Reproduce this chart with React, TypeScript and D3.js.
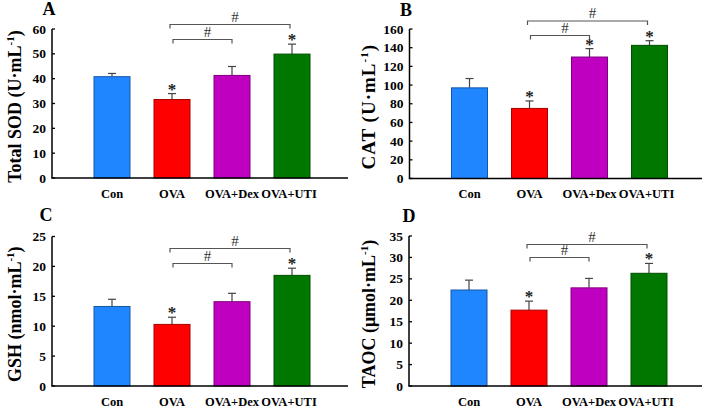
import React from "react";
import * as d3 from "d3";

const categories = ["Con", "OVA", "OVA+Dex", "OVA+UTI"];
const barColors = ["#1f86ff", "#ff0000", "#c000c0", "#007800"];

const sodMean = [40.8, 31.6, 41.3, 49.9];
const sodErr = [1.3, 2.4, 3.6, 4.0];
const sodStar = [false, true, false, true];
const sodTicks = [0, 10, 20, 30, 40, 50, 60];

const catMean = [97, 75, 130, 142.5];
const catErr = [10, 8, 9, 5];
const catStar = [false, true, true, true];
const catTicks = [0, 20, 40, 60, 80, 100, 120, 140, 160];

const gshMean = [13.3, 10.3, 14.1, 18.5];
const gshErr = [1.2, 1.2, 1.4, 1.2];
const gshStar = [false, true, false, true];
const gshTicks = [0, 5, 10, 15, 20, 25];

const taocMean = [22.4, 17.7, 22.9, 26.3];
const taocErr = [2.3, 2.1, 2.2, 2.3];
const taocStar = [false, true, false, true];
const taocTicks = [0, 5, 10, 15, 20, 25, 30, 35];

const FONT = "'Liberation Serif', 'Times New Roman', serif";

type PanelProps = {
  letter: string;
  title: string;
  unit: string;
  mean: number[];
  err: number[];
  star: boolean[];
  ticks: number[];
  axisX: number;
  yBase: number;
  yTop: number;
  xEnd: number;
  letterX: number;
  letterY: number;
  titleX: number;
  titleSize: number;
  titleSpacing: number;
  bracketHi: number;
  bracketLo: number;
};

function Panel(p: PanelProps) {
  const yMax = p.ticks[p.ticks.length - 1];
  const y = d3.scaleLinear().domain([0, yMax]).range([p.yBase, p.yTop]);
  const x = d3
    .scaleBand<string>()
    .domain(categories)
    .range([p.axisX + 30, p.axisX + 270])
    .paddingInner(0.4)
    .paddingOuter(0.2);
  const bw = x.bandwidth();
  const cx = (c: string) => (x(c) as number) + bw / 2;
  const titleY = (p.yBase + p.yTop) / 2 + 3;
  const cOVA = cx("OVA");
  const cDex = cx("OVA+Dex");
  const cUTI = cx("OVA+UTI");
  const bracket = (x1: number, x2: number, yy: number, key: string) => (
    <g key={key}>
      <path
        d={`M${x1},${yy + 4}V${yy}H${x2}V${yy + 4}`}
        fill="none"
        stroke="#555"
        strokeWidth={1.2}
      />
      <text
        x={(x1 + x2) / 2 + 5}
        y={yy - 3}
        textAnchor="middle"
        fontSize={15}
        fill="#333"
        fontFamily={FONT}
      >
        #
      </text>
    </g>
  );
  return (
    <g fontFamily={FONT}>
      <text
        x={p.letterX}
        y={p.letterY}
        textAnchor="middle"
        fontSize={18}
        fontWeight="bold"
      >
        {p.letter}
      </text>
      <text
        transform={`translate(${p.titleX},${titleY}) rotate(-90)`}
        textAnchor="middle"
        fontSize={p.titleSize}
        fontWeight="bold"
        letterSpacing={p.titleSpacing}
      >
        {p.title} ({p.unit}
        <tspan dy={-7} fontSize={11}>
          -1
        </tspan>
        <tspan dy={7}>)</tspan>
      </text>
      {categories.map((c, i) => {
        const x0 = x(c) as number;
        const top = y(p.mean[i]);
        const et = y(p.mean[i] + p.err[i]);
        const col = d3.color(barColors[i])!.darker(1.2).formatHex();
        return (
          <g key={c}>
            <line x1={x0 + bw / 2} x2={x0 + bw / 2} y1={top} y2={et} stroke="#444" strokeWidth={1.2} />
            <line x1={x0 + bw / 2 - 4} x2={x0 + bw / 2 + 4} y1={et} y2={et} stroke="#444" strokeWidth={1.2} />
            <rect
              x={x0}
              y={top}
              width={bw}
              height={p.yBase - top}
              fill={barColors[i]}
              stroke={col}
              strokeWidth={1}
            />
            {p.star[i] && (
              <text
                x={x0 + bw / 2}
                y={et + 1}
                textAnchor="middle"
                fontSize={17}
                fontWeight="bold"
                fill="#222"
              >
                *
              </text>
            )}
            <text
              x={x0 + bw / 2 - (i === 3 ? 3 : 0)}
              y={p.yBase + 19.5}
              textAnchor="middle"
              fontSize={12.5}
              fontWeight="bold"
            >
              {c}
            </text>
          </g>
        );
      })}
      {bracket(cOVA - 2, cUTI - 2, p.bracketHi, "hi")}
      {bracket(cOVA + 1, cDex, p.bracketLo, "lo")}
      <line x1={p.axisX} x2={p.axisX} y1={p.yTop} y2={p.yBase} stroke="#000" strokeWidth={1.5} />
      <line x1={p.axisX - 0.75} x2={p.xEnd} y1={p.yBase} y2={p.yBase} stroke="#000" strokeWidth={1.5} />
      {p.ticks.map((t) => (
        <g key={t}>
          <line x1={p.axisX} x2={p.axisX + 3} y1={y(t)} y2={y(t)} stroke="#000" strokeWidth={1.3} />
          <text
            x={p.axisX - 6}
            y={y(t) + 4.5}
            textAnchor="end"
            fontSize={13.5}
            fontWeight="bold"
          >
            {t}
          </text>
        </g>
      ))}
    </g>
  );
}

export default function App() {
  return (
    <svg
      width={709}
      height={409}
      style={{ position: "absolute", left: 0, top: 0, background: "#fff" }}
    >
      <rect width={709} height={409} fill="#fff" />
      <Panel
        letter="A"
        title="Total SOD"
        unit="U·mL"
        mean={sodMean}
        err={sodErr}
        star={sodStar}
        ticks={sodTicks}
        axisX={52}
        yBase={178}
        yTop={29}
        xEnd={348}
        letterX={49}
        letterY={15}
        titleX={21}
        titleSize={18}
        titleSpacing={0}
        bracketHi={24.5}
        bracketLo={39.5}
      />
      <Panel
        letter="B"
        title="CAT"
        unit="U·mL"
        mean={catMean}
        err={catErr}
        star={catStar}
        ticks={catTicks}
        axisX={409.5}
        yBase={178.5}
        yTop={29}
        xEnd={702}
        letterX={406}
        letterY={16}
        titleX={375}
        titleSize={19}
        titleSpacing={1}
        bracketHi={21}
        bracketLo={35.5}
      />
      <Panel
        letter="C"
        title="GSH"
        unit="nmol·mL"
        mean={gshMean}
        err={gshErr}
        star={gshStar}
        ticks={gshTicks}
        axisX={52}
        yBase={386}
        yTop={236.5}
        xEnd={348}
        letterX={46}
        letterY={221}
        titleX={21}
        titleSize={18}
        titleSpacing={0}
        bracketHi={248.5}
        bracketLo={263.5}
      />
      <Panel
        letter="D"
        title="TAOC"
        unit="μmol·mL"
        mean={taocMean}
        err={taocErr}
        star={taocStar}
        ticks={taocTicks}
        axisX={409}
        yBase={386}
        yTop={236}
        xEnd={702}
        letterX={409}
        letterY={222}
        titleX={375}
        titleSize={18}
        titleSpacing={0}
        bracketHi={244.5}
        bracketLo={257.5}
      />
    </svg>
  );
}
